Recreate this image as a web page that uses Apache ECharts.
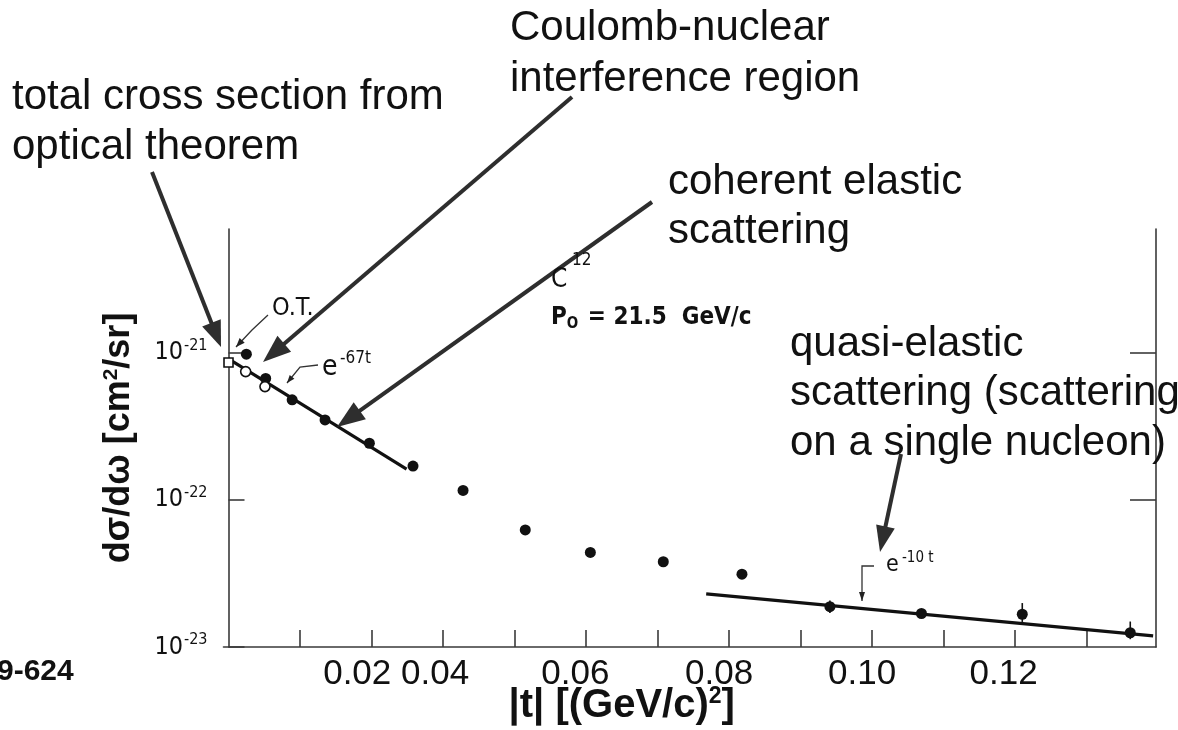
<!DOCTYPE html>
<html><head><meta charset="utf-8">
<script src="https://cdn.jsdelivr.net/npm/echarts@6/dist/echarts.min.js"></script>
<style>html,body{margin:0;padding:0;background:#fff;overflow:hidden;} #c{width:1178px;height:730px;}</style>
</head><body><div id="c"></div>
<script>
// ---------- data ----------
// |t| in (GeV/c)^2, dσ/dω in cm^2/sr
const filledT      = [0.0025, 0.0052, 0.0089, 0.0135, 0.0197, 0.0258, 0.0328, 0.0415, 0.0506, 0.0608, 0.0718, 0.0841, 0.0969, 0.1110, 0.1261];
const filledSigma  = [9.8e-22, 6.7e-22, 4.8e-22, 3.5e-22, 2.43e-22, 1.70e-22, 1.16e-22, 6.25e-23, 4.4e-23, 3.8e-23, 3.13e-23, 1.88e-23, 1.69e-23, 1.67e-23, 1.25e-23];
const openT        = [0.0024, 0.0051];
const openSigma    = [7.46e-22, 5.9e-22];
const otT          = [0];
const otSigma      = [8.6e-22];
const coherentFitT     = [0, 0.0249];
const coherentFitSigma = [9.1e-22, 1.62e-22];
const quasiFitT        = [0.0668, 0.1293];
const quasiFitSigma    = [2.30e-23, 1.19e-23];
const errT    = [0.0841, 0.0969, 0.1110, 0.1261];
const errLow  = [1.70e-23, 1.60e-23, 1.48e-23, 1.13e-23];
const errHigh = [2.07e-23, 1.79e-23, 1.99e-23, 1.49e-23];
// axis ticks and labels
const xTickValues  = [0.01, 0.02, 0.03, 0.04, 0.05, 0.06, 0.07, 0.08, 0.09, 0.10, 0.11, 0.12];
const xTickLabels  = ['0.02', '0.04', '0.06', '0.08', '0.10', '0.12'];
const xLabelAnchors = [0.0180, 0.0289, 0.0485, 0.0686, 0.0886, 0.1084]; // where the source printed its labels
const yTickValues  = [1e-23, 1e-22, 1e-21];
const yRightTicks  = [1e-22, 1e-21];

// ---------- chart ----------
const INK = '#111111';
const AX = '#3a3a3a';
const SANS = '"Liberation Sans", Arial, sans-serif';
const NARROW = '"Liberation Sans Narrow", "DejaVu Sans Condensed", "Liberation Sans", sans-serif';
const zip = (a, b) => a.map((v, i) => [v, b[i]]);

function yLabel(v) {
  const e = Math.round(Math.log10(v));
  return '{b|10}{s|' + e + '}';
}
function arrow(x1, y1, x2, y2, w, hl, hw, color) {
  const dx = x2 - x1, dy = y2 - y1, L = Math.hypot(dx, dy);
  const ux = dx / L, uy = dy / L, px = -uy, py = ux;
  const bx = x2 - ux * hl, by = y2 - uy * hl;
  return [
    { type: 'line', z: 100, shape: { x1, y1, x2: bx + ux * 2, y2: by + uy * 2 }, style: { stroke: color, lineWidth: w } },
    { type: 'polygon', z: 100, shape: { points: [[x2, y2], [bx + px * hw / 2, by + py * hw / 2], [bx - px * hw / 2, by - py * hw / 2]] }, style: { fill: color } }
  ];
}
function leader(points, hl, hw) {
  const n = points.length;
  const out = [{ type: 'polyline', z: 100, shape: { points }, style: { stroke: '#333', lineWidth: 1.3, fill: null } }];
  const a = points[n - 2], b = points[n - 1];
  const dx = b[0] - a[0], dy = b[1] - a[1], L = Math.hypot(dx, dy);
  const ux = dx / L, uy = dy / L, px = -uy, py = ux;
  const bx = b[0] - ux * hl, by = b[1] - uy * hl;
  out.push({ type: 'polygon', z: 100, shape: { points: [b, [bx + px * hw / 2, by + py * hw / 2], [bx - px * hw / 2, by - py * hw / 2]] }, style: { fill: '#222' } });
  return out;
}
function bigText(text, x, y) {
  return { type: 'text', z: 110, x, y, style: { text, fill: INK, font: '42px ' + SANS, align: 'left', verticalAlign: 'middle' } };
}
function smallText(text, x, y, size, bold) {
  return { type: 'text', z: 110, x, y, style: { text, fill: INK, font: (bold ? 'bold ' : '') + size + 'px ' + NARROW, align: 'left', verticalAlign: 'middle' } };
}

const graphics = [
  bigText('Coulomb-nuclear', 510, 28),
  bigText('interference region', 510, 79),
  bigText('total cross section from', 12, 97),
  bigText('optical theorem', 12, 147),
  bigText('coherent elastic', 668, 182),
  bigText('scattering', 668, 231),
  bigText('quasi-elastic', 790, 344),
  bigText('scattering (scattering', 790, 393),
  bigText('on a single nucleon)', 790, 443),
  { type: 'text', z: 110, x: -3, y: 672, style: { text: '9-624', fill: INK, font: 'bold 30px ' + SANS, align: 'left', verticalAlign: 'middle' } },
  smallText('O.T.', 272, 308, 25, false),
  smallText('C', 551, 280, 26, false),
  smallText('12', 572, 261, 17, false),
  { type: 'text', z: 110, x: 551, y: 318, style: {
      text: '{a|P}{b|O}{a| = 21.5  GeV/c}', fill: INK,
      rich: { a: { fontSize: 24, fontWeight: 'bold', fontFamily: NARROW, fill: INK }, b: { fontSize: 15, fontWeight: 'bold', fontFamily: NARROW, fill: INK, padding: [12, 2, 0, 0] } },
      align: 'left', verticalAlign: 'middle' } },
  smallText('e', 322, 368, 28, false),
  smallText('-67t', 340, 359, 17, false),
  smallText('e', 886, 565, 23, false),
  smallText('-10 t', 902, 558, 15, false)
].concat(
  arrow(152, 172, 221, 347, 4, 26, 20, '#2e2e2e'),
  arrow(572, 97, 263, 362, 4, 28, 21, '#2e2e2e'),
  arrow(652, 202, 337, 427, 4, 28, 21, '#2e2e2e'),
  arrow(901, 454, 880, 552, 4, 26, 19, '#2e2e2e'),
  leader([[268, 315], [252, 330], [236, 347]], 9, 7),
  leader([[318, 365], [300, 367], [287, 383]], 8, 6),
  leader([[874, 566], [862, 566], [862, 601]], 9, 6)
);

const chart = echarts.init(document.getElementById('c'), null, { renderer: 'canvas' });
chart.setOption({
  backgroundColor: '#ffffff',
  animation: false,
  grid: { left: 223.5, right: 22, top: 229, bottom: 83, containLabel: false, outerBoundsMode: 'none' },
  xAxis: [{
    type: 'value', min: -0.0007, max: 0.1297,
    name: '{t||t| [(GeV/c)}{s|2}{t|]}', nameLocation: 'middle', nameGap: 38, nameMoveOverlap: false,
    nameTextStyle: { padding: [0, 136, 0, 0], rich: {
      t: { fontSize: 40, fontWeight: 'bold', fontFamily: SANS, color: INK },
      s: { fontSize: 23, fontWeight: 'bold', fontFamily: SANS, color: INK, padding: [0, 0, 18, 0] } } },
    axisLine: { show: true, lineStyle: { color: AX, width: 1.6 } },
    axisTick: { show: true, inside: true, length: 17, customValues: xTickValues, lineStyle: { color: AX, width: 1.6 } },
    axisLabel: { show: true, customValues: xLabelAnchors, margin: 10, color: INK, fontFamily: SANS, fontSize: 35,
      formatter: (v) => { let bi = 0; xLabelAnchors.forEach((a, i) => { if (Math.abs(a - v) < Math.abs(xLabelAnchors[bi] - v)) bi = i; }); return xTickLabels[bi]; } },
    splitLine: { show: false }
  }],
  yAxis: [{
    type: 'log', logBase: 10, min: 1e-23, max: 6.96e-21, position: 'left',
    name: '{t|dσ/dω [cm}{s|2}{t|/sr]}', nameLocation: 'middle', nameRotate: 90, nameGap: 86,
    nameTextStyle: { rich: {
      t: { fontSize: 36, fontWeight: 'bold', fontFamily: SANS, color: INK },
      s: { fontSize: 21, fontWeight: 'bold', fontFamily: SANS, color: INK, padding: [0, 0, 16, 0] } } },
    axisLine: { show: true, lineStyle: { color: AX, width: 1.6 } },
    axisTick: { show: true, inside: true, length: 16, customValues: yTickValues, lineStyle: { color: AX, width: 1.6 } },
    axisLabel: { show: true, customValues: yTickValues, margin: 16, formatter: yLabel,
      rich: {
        b: { fontSize: 25, fontFamily: NARROW, color: INK },
        s: { fontSize: 16, fontFamily: NARROW, color: INK, padding: [0, 0, 14, 1] } } },
    splitLine: { show: false }
  }, {
    type: 'log', logBase: 10, min: 1e-23, max: 6.96e-21, position: 'right',
    axisLine: { show: true, onZero: false, lineStyle: { color: AX, width: 1.6 } },
    axisTick: { show: true, inside: true, length: 26, customValues: yRightTicks, lineStyle: { color: AX, width: 1.6 } },
    axisLabel: { show: false },
    splitLine: { show: false }
  }],
  series: [
    { name: 'coherent fit e^-67t', type: 'line', data: zip(coherentFitT, coherentFitSigma), symbol: 'none', lineStyle: { color: INK, width: 3.2 }, z: 2 },
    { name: 'quasi-elastic fit e^-10t', type: 'line', data: zip(quasiFitT, quasiFitSigma), symbol: 'none', lineStyle: { color: INK, width: 3.2 }, z: 2 },
    { name: 'error bars', type: 'custom', z: 3,
      data: errT.map((t, i) => [t, errLow[i], errHigh[i]]),
      renderItem: (params, api) => {
        const p1 = api.coord([api.value(0), api.value(1)]);
        const p2 = api.coord([api.value(0), api.value(2)]);
        return { type: 'line', shape: { x1: p1[0], y1: p1[1], x2: p2[0], y2: p2[1] }, style: { stroke: INK, lineWidth: 1.6 } };
      } },
    { name: 'measured', type: 'scatter', data: zip(filledT, filledSigma), symbol: 'circle', symbolSize: 11, itemStyle: { color: INK, opacity: 1 }, z: 4 },
    { name: 'Coulomb-corrected', type: 'scatter', data: zip(openT, openSigma), symbol: 'circle', symbolSize: 10, itemStyle: { color: '#ffffff', borderColor: INK, borderWidth: 1.6, opacity: 1 }, z: 5 },
    { name: 'optical theorem', type: 'scatter', data: zip(otT, otSigma), symbol: 'rect', symbolSize: 9, itemStyle: { color: '#ffffff', borderColor: INK, borderWidth: 1.6, opacity: 1 }, z: 5 }
  ],
  graphic: graphics
});
</script>
</body></html>
